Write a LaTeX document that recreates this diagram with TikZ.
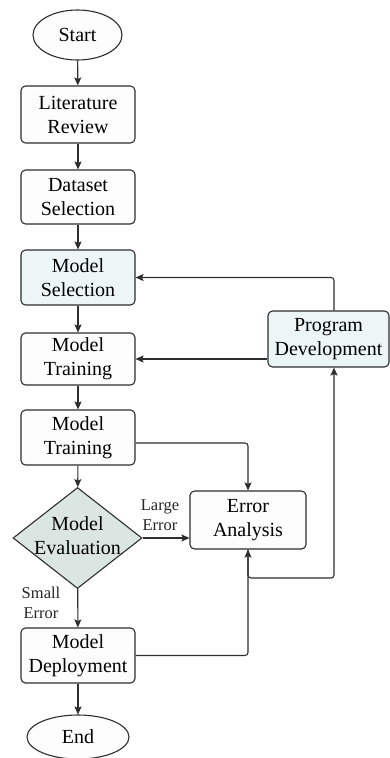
\documentclass[tikz,border=0pt]{standalone}
\usepackage{fontspec}
\setmainfont{Liberation Serif}
\usetikzlibrary{shapes.geometric,arrows.meta}
\definecolor{bordc}{HTML}{2E2E2E}
\definecolor{cyanfill}{HTML}{EDF6F6}
\definecolor{diafill}{HTML}{DBE5E1}
\definecolor{boxfill}{HTML}{FDFDFD}
\tikzset{
  base/.style={draw=bordc, line width=1.1pt, font=\fontsize{20}{24}\selectfont, align=center, inner sep=0pt},
  procbox/.style={base, rectangle, rounded corners=4.5pt, fill=boxfill, minimum width=114pt, minimum height=55pt},
  term/.style={base, ellipse, fill=boxfill},
  decide/.style={base, diamond, fill=diafill, aspect=1.28, minimum width=129pt, minimum height=101pt},
  arr/.style={draw=bordc, line width=1.1pt, -{Stealth[length=8pt,width=7pt,inset=1.5pt]}},
  lbl/.style={font=\fontsize{16.5}{20}\selectfont, align=center, inner sep=0pt, text=black!85},
}
\begin{document}
\begin{tikzpicture}[x=1pt,y=-1pt]
\clip (0,0) rectangle (390,758);
\fill[white] (0,0) rectangle (390,758);

\node[term, minimum width=89pt, minimum height=50pt] (start) at (77.5,35) {Start};
\node[procbox, minimum height=57pt] (lit) at (78,114.5) {Literature\\Review};
\node[procbox, minimum height=54pt] (data) at (78,197) {Dataset\\Selection};
\node[procbox, fill=cyanfill] (msel) at (78,277.5) {Model\\Selection};
\node[procbox, minimum height=52pt] (mt1) at (78,359) {Model\\Training};
\node[procbox] (mt2) at (78,437.5) {Model\\Training};
\node[decide] (eval) at (77.5,538) {\makebox[0pt]{\begin{tabular}{@{}c@{}}Model\\Evaluation\end{tabular}}};
\node[procbox, minimum width=116pt, minimum height=58pt] (ea) at (248,520) {Error\\Analysis};
\node[procbox, fill=cyanfill, minimum width=121pt, minimum height=56pt] (pd) at (328.5,339) {Program\\Development};
\node[procbox] (md) at (78,655.5) {Model\\Deployment};
\node[term, minimum width=102pt, minimum height=44pt] (end) at (78,737) {End};

\node[lbl] (llarge) at (160,515) {Large\\Error};
\node[lbl] (lsmall) at (41,603) {Small\\Error};

\coordinate (br) at (248,578);

\draw[arr] (start) -- (lit);
\draw[arr] (lit) -- (data);
\draw[arr] (data) -- (msel);
\draw[arr] (msel) -- (mt1);
\draw[arr] (mt1) -- (mt2);
\draw[arr] (mt2) -- (eval);
\draw[arr] (eval) -- (md);
\draw[arr] (md) -- (end);

\draw[arr, rounded corners=3pt] ([yshift=-5.5pt]mt2.east) -| (ea.north);
\draw[arr] (eval.east) -- (eval.east -| ea.west);
\draw[arr, rounded corners=3pt] (md.east) -| (ea.south);
\draw[arr, rounded corners=3pt] (ea.south) -- (br) -| ([xshift=5.5pt]pd.south);
\draw[arr, rounded corners=3pt] ([xshift=5.5pt]pd.north) |- (msel.east);
\draw[arr] (mt1.east -| pd.west) -- (mt1.east);
\end{tikzpicture}
\end{document}
